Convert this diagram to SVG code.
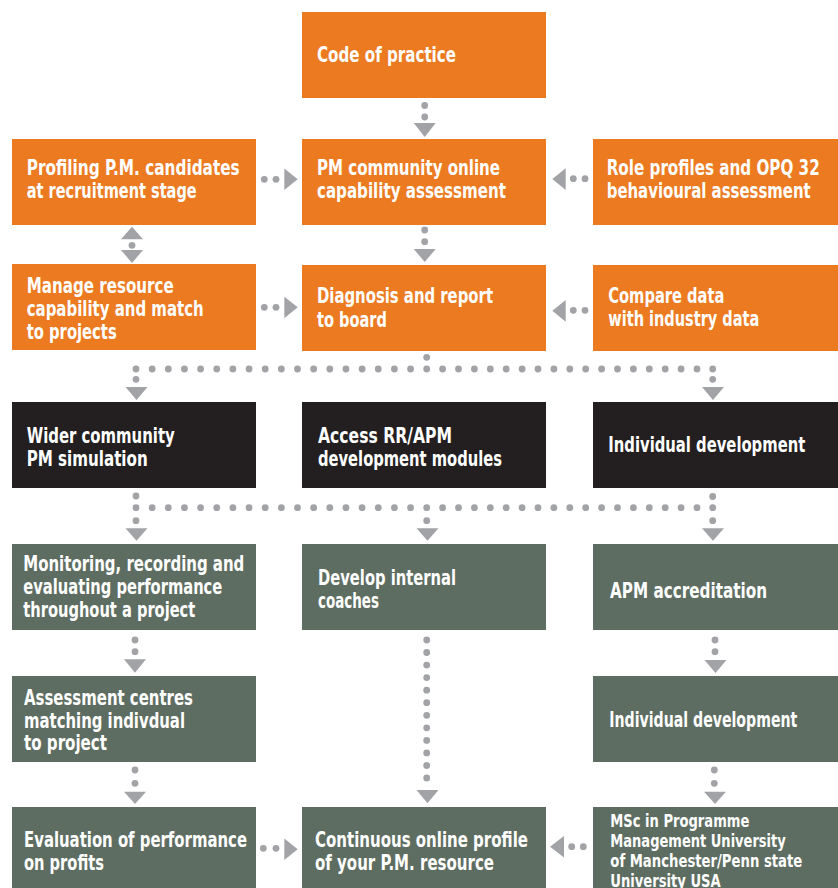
<svg xmlns="http://www.w3.org/2000/svg" width="838" height="888" viewBox="0 0 838 888">
<style>
.o{fill:#EC7A21}.k{fill:#231F20}.g{fill:#5E6D62}
text{fill:#FFFFFF;font-family:"Liberation Sans Narrow","DejaVu Sans Condensed","Liberation Sans",sans-serif;font-weight:bold;font-size:20.5px}
text.s{font-size:17px}
.c circle,.c polygon{fill:#A2A3A7}
</style>
<rect width="838" height="888" fill="#FFFFFF"/>
<g id="code"><rect class="o" x="302" y="12" width="244" height="86"/><text transform="translate(317,61.5) scale(0.8,1)" textLength="173.75" lengthAdjust="spacingAndGlyphs">Code of practice</text></g>
<g id="profiling"><rect class="o" x="12" y="139" width="244" height="86"/><text transform="translate(26.7,175) scale(0.8,1)" textLength="266.25" lengthAdjust="spacingAndGlyphs">Profiling P.M. candidates</text><text transform="translate(26.7,198) scale(0.8,1)" textLength="212.5" lengthAdjust="spacingAndGlyphs">at recruitment stage</text></g>
<g id="pmcommunity"><rect class="o" x="302" y="139" width="244" height="86"/><text transform="translate(317,175) scale(0.8,1)" textLength="228.75" lengthAdjust="spacingAndGlyphs">PM community online</text><text transform="translate(317,198) scale(0.8,1)" textLength="236.25" lengthAdjust="spacingAndGlyphs">capability assessment</text></g>
<g id="role"><rect class="o" x="593" y="139" width="245" height="86"/><text transform="translate(606.7,175) scale(0.8,1)" textLength="266.25" lengthAdjust="spacingAndGlyphs">Role profiles and OPQ 32</text><text transform="translate(606.7,198) scale(0.8,1)" textLength="255" lengthAdjust="spacingAndGlyphs">behavioural assessment</text></g>
<g id="manage"><rect class="o" x="12" y="264" width="244" height="86"/><text transform="translate(26.7,293) scale(0.8,1)" textLength="183.75" lengthAdjust="spacingAndGlyphs">Manage resource</text><text transform="translate(26.7,316) scale(0.8,1)" textLength="221.25" lengthAdjust="spacingAndGlyphs">capability and match</text><text transform="translate(26.7,339) scale(0.8,1)" textLength="112.5" lengthAdjust="spacingAndGlyphs">to projects</text></g>
<g id="diagnosis"><rect class="o" x="302" y="265" width="244" height="86"/><text transform="translate(317,303) scale(0.8,1)" textLength="220" lengthAdjust="spacingAndGlyphs">Diagnosis and report</text><text transform="translate(317,326.5) scale(0.8,1)" textLength="87.5" lengthAdjust="spacingAndGlyphs">to board</text></g>
<g id="compare"><rect class="o" x="593" y="265" width="245" height="86"/><text transform="translate(608.3,302.7) scale(0.8,1)" textLength="145" lengthAdjust="spacingAndGlyphs">Compare data</text><text transform="translate(608.3,326) scale(0.8,1)" textLength="188.75" lengthAdjust="spacingAndGlyphs">with industry data</text></g>
<g id="wider"><rect class="k" x="12" y="402" width="244" height="86"/><text transform="translate(26.7,443) scale(0.8,1)" textLength="185" lengthAdjust="spacingAndGlyphs">Wider community</text><text transform="translate(26.7,465.5) scale(0.8,1)" textLength="151.25" lengthAdjust="spacingAndGlyphs">PM simulation</text></g>
<g id="access"><rect class="k" x="302" y="402" width="244" height="86"/><text transform="translate(318,443) scale(0.8,1)" textLength="167.5" lengthAdjust="spacingAndGlyphs">Access RR/APM</text><text transform="translate(318,465.5) scale(0.8,1)" textLength="230" lengthAdjust="spacingAndGlyphs">development modules</text></g>
<g id="individual1"><rect class="k" x="593" y="402" width="245" height="86"/><text transform="translate(608.3,451.7) scale(0.8,1)" textLength="246.25" lengthAdjust="spacingAndGlyphs">Individual development</text></g>
<g id="monitoring"><rect class="g" x="12" y="544" width="244" height="86"/><text transform="translate(23.3,571) scale(0.8,1)" textLength="276.25" lengthAdjust="spacingAndGlyphs">Monitoring, recording and</text><text transform="translate(23.3,594) scale(0.8,1)" textLength="248.75" lengthAdjust="spacingAndGlyphs">evaluating performance</text><text transform="translate(23.3,617) scale(0.8,1)" textLength="215" lengthAdjust="spacingAndGlyphs">throughout a project</text></g>
<g id="develop"><rect class="g" x="302" y="544" width="244" height="86"/><text transform="translate(318,585) scale(0.8,1)" textLength="172.5" lengthAdjust="spacingAndGlyphs">Develop internal</text><text transform="translate(318,608) scale(0.8,1)" textLength="76.25" lengthAdjust="spacingAndGlyphs">coaches</text></g>
<g id="apm"><rect class="g" x="593" y="544" width="245" height="86"/><text transform="translate(610,598) scale(0.8,1)" textLength="196.25" lengthAdjust="spacingAndGlyphs">APM accreditation</text></g>
<g id="assessment"><rect class="g" x="12" y="676" width="244" height="86"/><text transform="translate(24,705) scale(0.8,1)" textLength="211.25" lengthAdjust="spacingAndGlyphs">Assessment centres</text><text transform="translate(24,727.5) scale(0.8,1)" textLength="201.25" lengthAdjust="spacingAndGlyphs">matching indivdual</text><text transform="translate(24,750) scale(0.8,1)" textLength="103.75" lengthAdjust="spacingAndGlyphs">to project</text></g>
<g id="individual2"><rect class="g" x="593" y="676" width="245" height="86"/><text transform="translate(609.3,726.7) scale(0.8,1)" textLength="235" lengthAdjust="spacingAndGlyphs">Individual development</text></g>
<g id="evaluation"><rect class="g" x="12" y="807" width="244" height="81"/><text transform="translate(24,846.7) scale(0.8,1)" textLength="278.75" lengthAdjust="spacingAndGlyphs">Evaluation of performance</text><text transform="translate(24,870) scale(0.8,1)" textLength="100" lengthAdjust="spacingAndGlyphs">on profits</text></g>
<g id="continuous"><rect class="g" x="302" y="807" width="244" height="81"/><text transform="translate(315,846.7) scale(0.8,1)" textLength="266.25" lengthAdjust="spacingAndGlyphs">Continuous online profile</text><text transform="translate(315,870) scale(0.8,1)" textLength="223.75" lengthAdjust="spacingAndGlyphs">of your P.M. resource</text></g>
<g id="msc"><rect class="g" x="593" y="807" width="245" height="81"/><text class="s" transform="translate(610.3,827.3) scale(0.8,1)" textLength="173.75" lengthAdjust="spacingAndGlyphs">MSc in Programme</text><text class="s" transform="translate(610.3,847.3) scale(0.8,1)" textLength="219.4" lengthAdjust="spacingAndGlyphs">Management University</text><text class="s" transform="translate(610.3,867.3) scale(0.8,1)" textLength="240" lengthAdjust="spacingAndGlyphs">of Manchester/Penn state</text><text class="s" transform="translate(610.3,886.8) scale(0.8,1)" textLength="138" lengthAdjust="spacingAndGlyphs">University USA</text></g>
<g id="connectors" class="c">
<circle cx="424.7" cy="105.5" r="3.4"/><circle cx="424.7" cy="117" r="3.4"/><polygon points="413.7,123 435.7,123 424.7,137"/>
<circle cx="424.7" cy="230" r="3.4"/><circle cx="424.7" cy="241.7" r="3.4"/><polygon points="413.7,249 435.7,249 424.7,262"/>
<polygon points="121,239.3 143,239.3 132,226.7"/><circle cx="132" cy="245.3" r="3.4"/><polygon points="121,250 143,250 132,263"/>
<circle cx="264.3" cy="179.3" r="3.4"/><circle cx="276" cy="179.3" r="3.4"/><polygon points="284.3,168.5 284.3,190 297.7,179.3"/>
<polygon points="565.7,168.3 565.7,190 552.3,179"/><circle cx="573.3" cy="178.7" r="3.4"/><circle cx="585" cy="178.7" r="3.4"/>
<circle cx="264.3" cy="307.3" r="3.4"/><circle cx="276" cy="307.3" r="3.4"/><polygon points="284.3,296.7 284.3,318.3 297.7,307.3"/>
<polygon points="565.7,300 565.7,321.7 552.3,310.8"/><circle cx="573.3" cy="310.3" r="3.4"/><circle cx="585" cy="310.3" r="3.4"/>
<circle cx="426.7" cy="357.3" r="3.4"/>
<circle cx="136" cy="369" r="3.4"/><circle cx="152.15" cy="369" r="3.4"/><circle cx="168.3" cy="369" r="3.4"/><circle cx="184.45" cy="369" r="3.4"/><circle cx="200.6" cy="369" r="3.4"/><circle cx="216.75" cy="369" r="3.4"/><circle cx="232.9" cy="369" r="3.4"/><circle cx="249.05" cy="369" r="3.4"/><circle cx="265.2" cy="369" r="3.4"/><circle cx="281.35" cy="369" r="3.4"/><circle cx="297.5" cy="369" r="3.4"/><circle cx="313.65" cy="369" r="3.4"/><circle cx="329.8" cy="369" r="3.4"/><circle cx="345.95" cy="369" r="3.4"/><circle cx="362.1" cy="369" r="3.4"/><circle cx="378.25" cy="369" r="3.4"/><circle cx="394.4" cy="369" r="3.4"/><circle cx="410.55" cy="369" r="3.4"/><circle cx="426.7" cy="369" r="3.4"/><circle cx="442.6" cy="369" r="3.4"/><circle cx="458.5" cy="369" r="3.4"/><circle cx="474.4" cy="369" r="3.4"/><circle cx="490.3" cy="369" r="3.4"/><circle cx="506.2" cy="369" r="3.4"/><circle cx="522.1" cy="369" r="3.4"/><circle cx="538" cy="369" r="3.4"/><circle cx="553.9" cy="369" r="3.4"/><circle cx="569.8" cy="369" r="3.4"/><circle cx="585.7" cy="369" r="3.4"/><circle cx="601.6" cy="369" r="3.4"/><circle cx="617.5" cy="369" r="3.4"/><circle cx="633.4" cy="369" r="3.4"/><circle cx="649.3" cy="369" r="3.4"/><circle cx="665.2" cy="369" r="3.4"/><circle cx="681.1" cy="369" r="3.4"/><circle cx="697" cy="369" r="3.4"/><circle cx="712.7" cy="369" r="3.4"/>
<circle cx="136" cy="379.3" r="3.4"/><polygon points="125.5,387 147.5,387 136.5,400"/>
<circle cx="712.7" cy="379.3" r="3.4"/><polygon points="702,387 724,387 713,400"/>
<circle cx="136" cy="496" r="3.4"/><circle cx="712.7" cy="496.5" r="3.4"/>
<circle cx="136" cy="507.7" r="3.4"/><circle cx="152.15" cy="507.7" r="3.4"/><circle cx="168.3" cy="507.7" r="3.4"/><circle cx="184.45" cy="507.7" r="3.4"/><circle cx="200.6" cy="507.7" r="3.4"/><circle cx="216.75" cy="507.7" r="3.4"/><circle cx="232.9" cy="507.7" r="3.4"/><circle cx="249.05" cy="507.7" r="3.4"/><circle cx="265.2" cy="507.7" r="3.4"/><circle cx="281.35" cy="507.7" r="3.4"/><circle cx="297.5" cy="507.7" r="3.4"/><circle cx="313.65" cy="507.7" r="3.4"/><circle cx="329.8" cy="507.7" r="3.4"/><circle cx="345.95" cy="507.7" r="3.4"/><circle cx="362.1" cy="507.7" r="3.4"/><circle cx="378.25" cy="507.7" r="3.4"/><circle cx="394.4" cy="507.7" r="3.4"/><circle cx="410.55" cy="507.7" r="3.4"/><circle cx="426.7" cy="507.7" r="3.4"/><circle cx="442.6" cy="507.7" r="3.4"/><circle cx="458.5" cy="507.7" r="3.4"/><circle cx="474.4" cy="507.7" r="3.4"/><circle cx="490.3" cy="507.7" r="3.4"/><circle cx="506.2" cy="507.7" r="3.4"/><circle cx="522.1" cy="507.7" r="3.4"/><circle cx="538" cy="507.7" r="3.4"/><circle cx="553.9" cy="507.7" r="3.4"/><circle cx="569.8" cy="507.7" r="3.4"/><circle cx="585.7" cy="507.7" r="3.4"/><circle cx="601.6" cy="507.7" r="3.4"/><circle cx="617.5" cy="507.7" r="3.4"/><circle cx="633.4" cy="507.7" r="3.4"/><circle cx="649.3" cy="507.7" r="3.4"/><circle cx="665.2" cy="507.7" r="3.4"/><circle cx="681.1" cy="507.7" r="3.4"/><circle cx="697" cy="507.7" r="3.4"/><circle cx="712.7" cy="507.7" r="3.4"/>
<circle cx="136" cy="520.7" r="3.4"/><polygon points="125.5,528.3 147.5,528.3 136.5,540.7"/>
<circle cx="426.7" cy="520.7" r="3.4"/><polygon points="416.5,528.3 438.5,528.3 427.5,540.7"/>
<circle cx="712.7" cy="520.7" r="3.4"/><polygon points="702,528.3 724,528.3 713,540.7"/>
<circle cx="135" cy="640" r="3.4"/><circle cx="135" cy="651.7" r="3.4"/><polygon points="124,659.3 146,659.3 135,672.7"/>
<circle cx="715" cy="640" r="3.4"/><circle cx="715" cy="651.7" r="3.4"/><polygon points="704.5,660 726.5,660 715.5,673"/>
<circle cx="426.7" cy="640" r="3.4"/><circle cx="426.7" cy="652.5" r="3.4"/><circle cx="426.7" cy="665.1" r="3.4"/><circle cx="426.7" cy="677.6" r="3.4"/><circle cx="426.7" cy="690.2" r="3.4"/><circle cx="426.7" cy="702.7" r="3.4"/><circle cx="426.7" cy="715.3" r="3.4"/><circle cx="426.7" cy="727.8" r="3.4"/><circle cx="426.7" cy="740.4" r="3.4"/><circle cx="426.7" cy="752.9" r="3.4"/><circle cx="426.7" cy="765.5" r="3.4"/><circle cx="426.7" cy="778" r="3.4"/><polygon points="416.5,790 438.5,790 427.5,803.3"/>
<circle cx="135" cy="770" r="3.4"/><circle cx="135" cy="783.3" r="3.4"/><polygon points="124,791.7 146,791.7 135,804"/>
<circle cx="714.3" cy="770" r="3.4"/><circle cx="714.3" cy="783.3" r="3.4"/><polygon points="704,791.7 726,791.7 715,804"/>
<circle cx="263.3" cy="848.3" r="3.4"/><circle cx="276" cy="848.3" r="3.4"/><polygon points="284.3,838.5 284.3,860 297.7,849.3"/>
<polygon points="564,836 564,857.5 550,846.7"/><circle cx="571.7" cy="846.7" r="3.4"/><circle cx="583.3" cy="846.7" r="3.4"/>
</g>
</svg>
